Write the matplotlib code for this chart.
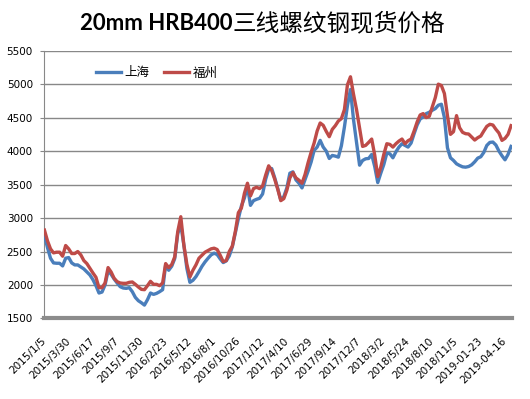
import numpy as np
import matplotlib
matplotlib.use("Agg")
import matplotlib.pyplot as plt

# 20mm HRB400 rebar spot price (8 samples per label interval)
shanghai = [
    2740, 2560, 2400, 2330, 2325, 2325, 2285, 2400, 2410, 2330,
    2300, 2300, 2270, 2240, 2195, 2150, 2080, 1990, 1880, 1895,
    2000, 2210, 2160, 2090, 2030, 1975, 1955, 1950, 1960, 1900,
    1815, 1765, 1735, 1700, 1780, 1880, 1860, 1875, 1900, 1930,
    2300, 2220, 2280, 2395, 2770, 2900, 2600, 2250, 2040, 2070,
    2125, 2200, 2280, 2345, 2400, 2450, 2475, 2455, 2390, 2335,
    2360, 2435, 2570, 2780, 2990, 3180, 3300, 3470, 3190, 3260,
    3280, 3295, 3360, 3580, 3730, 3740, 3600, 3440, 3270, 3320,
    3450, 3670, 3690, 3570, 3520, 3450, 3575, 3700, 3835, 4010,
    4060, 4160, 4060, 4000, 3890, 3935, 3925, 3910, 4080, 4360,
    4680, 4920, 4470, 4130, 3790, 3860, 3885, 3890, 3950, 3770,
    3530, 3670, 3800, 3970, 3960, 3900, 3990, 4060, 4110, 4085,
    4060, 4120, 4260, 4390, 4480, 4510, 4560, 4580, 4610, 4635,
    4685, 4700, 4500, 4050, 3900, 3860, 3810, 3785, 3765, 3760,
    3770, 3795, 3840, 3895, 3915, 3980, 4085, 4130, 4135, 4090,
    4000, 3930, 3870, 3950, 4070,
]
fuzhou = [
    2820, 2660, 2540, 2480, 2490, 2490, 2430, 2590, 2540, 2470,
    2470, 2500, 2450, 2365, 2320, 2250, 2180, 2115, 1960, 1960,
    2030, 2260, 2195, 2100, 2050, 2030, 2025, 2025, 2040, 2045,
    2010, 1970, 1935, 1930, 1990, 2055, 2010, 2010, 1990, 2030,
    2320, 2260, 2305, 2420, 2800, 3020, 2600, 2310, 2120, 2220,
    2300, 2400, 2445, 2490, 2515, 2540, 2550, 2530, 2445, 2350,
    2365, 2500, 2580, 2800, 3080, 3150, 3370, 3520, 3330, 3440,
    3460, 3440, 3480, 3640, 3780, 3710, 3580, 3430, 3260, 3290,
    3415, 3600, 3680, 3600, 3565, 3520, 3650, 3825, 3980, 4120,
    4300, 4420, 4385, 4295, 4215, 4325, 4380, 4450, 4485, 4620,
    4990, 5110, 4850, 4620, 4350, 4070, 4085, 4130, 4180, 3940,
    3620, 3760, 3950, 4110, 4100, 4060, 4110, 4150, 4180, 4110,
    4155, 4180, 4300, 4435, 4540, 4560, 4500, 4520, 4660, 4800,
    5000, 4980, 4860, 4530, 4250, 4290, 4530, 4350, 4280, 4260,
    4255, 4210, 4165, 4200, 4225, 4300, 4370, 4400, 4390, 4325,
    4270, 4160, 4190, 4250, 4380,
]
date_labels = [
    "2015/1/5", "2015/3/30", "2015/6/17", "2015/9/7", "2015/11/30",
    "2016/2/23", "2016/5/12", "2016/8/1", "2016/10/26", "2017/1/12",
    "2017/4/10", "2017/6/29", "2017/9/14", "2017/12/7", "2018/3/2",
    "2018/5/24", "2018/8/10", "2018/11/5", "2019-01-23", "2019-04-16",
]
label_step = 8
yticks = [1500, 2000, 2500, 3000, 3500, 4000, 4500, 5000, 5500]

cjk = ["Noto Sans CJK SC", "DejaVu Sans"]

fig = plt.figure(figsize=(5.3, 3.99), dpi=100)
ax = fig.add_axes([0.083, 0.2018, 0.883, 0.6712])

x = np.arange(len(shanghai))
ax.plot(x, shanghai, color="#4a7ebb", lw=2.4, label="上海", zorder=3)
ax.plot(x, fuzhou, color="#be4b48", lw=2.4, label="福州", zorder=4)

ax.set_xlim(-0.15, len(x) - 0.7)
ax.set_ylim(1500, 5500)
ax.set_yticks(yticks)
ax.yaxis.grid(True, color="#888888", lw=1.0)
ax.set_axisbelow(True)
for t in ax.get_yticklabels():
    t.set_fontsize(7.5)
ax.tick_params(axis="y", length=3, width=0.8, color="#888888", pad=5)

pos = np.arange(0, len(x), label_step)[:len(date_labels)]
ax.set_xticks(pos)
ax.set_xticklabels(date_labels, rotation=45, ha="right", va="center",
                   rotation_mode="anchor", fontsize=7.5)
ax.tick_params(axis="x", length=0, pad=15)

for s in ["top", "right"]:
    ax.spines[s].set_visible(False)
ax.spines["left"].set_color("#888888")
ax.spines["left"].set_linewidth(0.8)
ax.spines["bottom"].set_color("#8c8c8c")
ax.spines["bottom"].set_linewidth(3)

ax.legend(loc="center", bbox_to_anchor=(0.241, 0.917), ncol=2, frameon=False,
          prop={"family": cjk, "size": 9}, handlelength=2.0,
          handletextpad=0.3, columnspacing=1.2)

# title: latin part bold, chinese part regular weight
t1 = fig.text(0.151, 0.94, "20mm HRB400", ha="left", va="center",
              fontsize=16, fontweight="bold", family=["Lato", "DejaVu Sans"])
ax.annotate("三线螺纹钢现货价格", xy=(1, 0.5), xycoords=t1, ha="left",
            va="center", fontsize=17, family=cjk, annotation_clip=False)

fig.savefig("out.png", dpi=100)
